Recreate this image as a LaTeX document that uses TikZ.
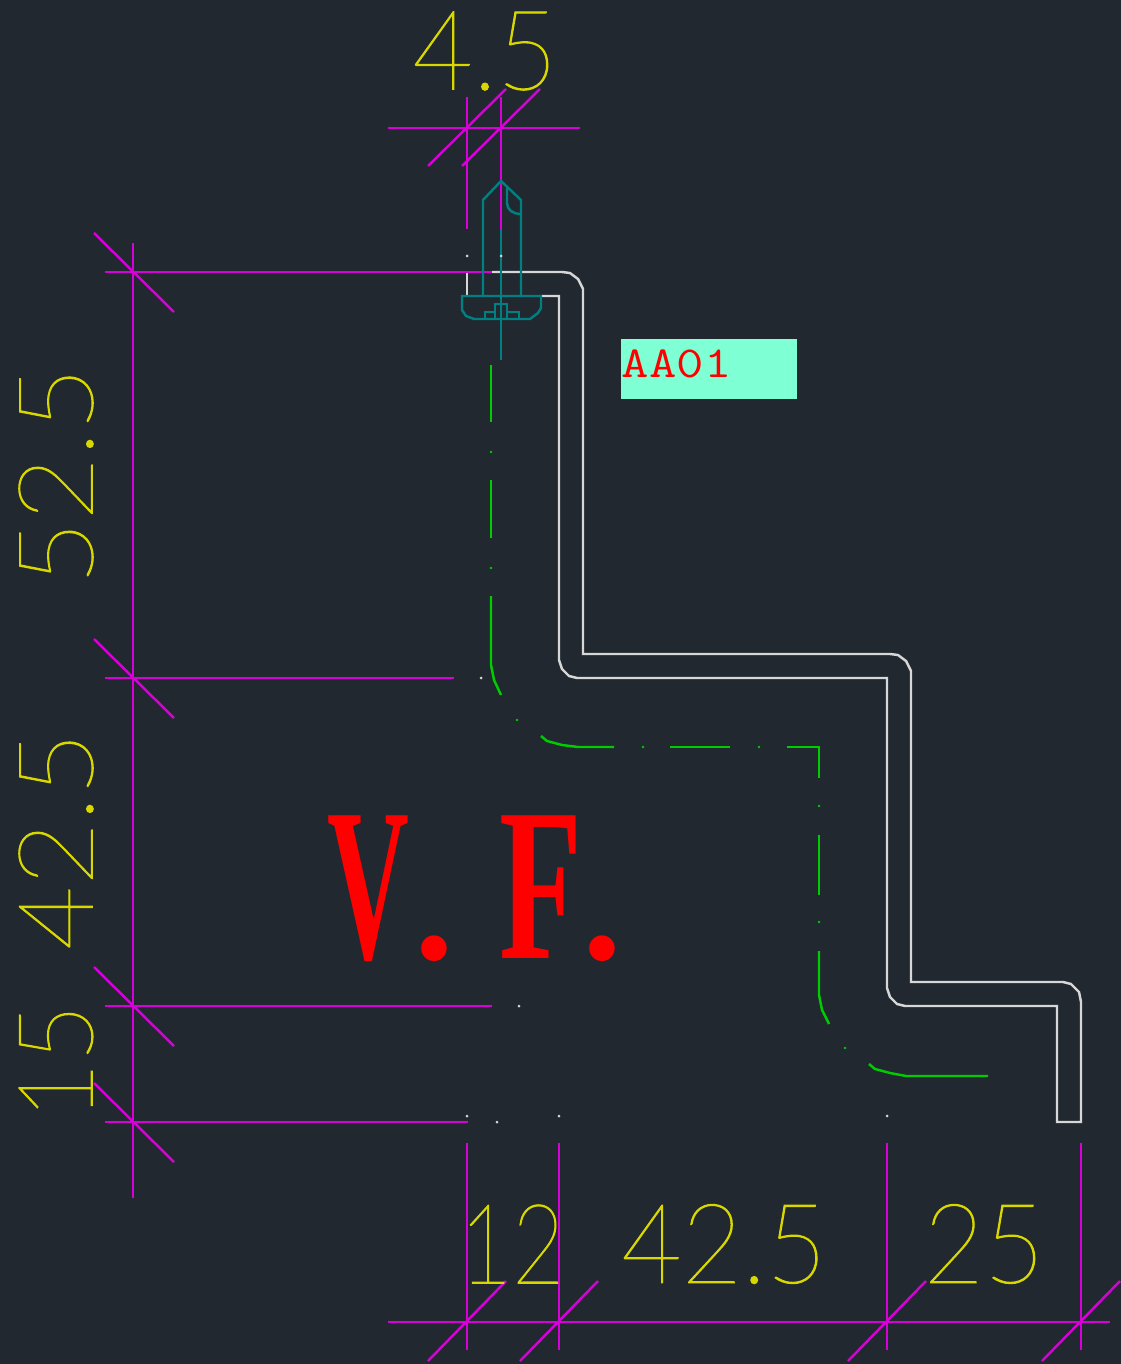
\documentclass[tikz,border=0pt]{standalone}
\usepackage{fontspec}
\usepackage{amsmath, xcolor, graphicx}
\newfontfamily\dimfont[FakeBold=1]{Lato Thin}
\newfontfamily\viewfont{Liberation Serif}
\newcommand{\viewdot}{\scalebox{1.9}[1]{\mdseries .}}
\definecolor{cadbg}{RGB}{33,40,48}
\definecolor{cadmag}{RGB}{216,0,216}
\definecolor{cadteal}{RGB}{0,128,128}
\definecolor{cadgreen}{RGB}{0,204,0}
\definecolor{cadyel}{RGB}{216,216,0}
\definecolor{cadwhite}{RGB}{215,215,215}
\definecolor{cadaqua}{RGB}{127,255,212}
\tikzset{
  dimline/.style={draw=cadmag,line width=0.7pt},
  profile/.style={draw=cadwhite,line width=0.7pt},
  center/.style={draw=cadgreen,line width=0.7pt},
  screwline/.style={draw=cadteal,line width=0.7pt},
  dimtext/.style={inner sep=0pt,text=cadyel,xscale=0.94,font=\dimfont\fontsize{31.5}{31.5}\selectfont},
}
\begin{document}
\begin{tikzpicture}[x=0.01cm,y=-0.01cm]
\useasboundingbox (0,0) rectangle (1120,1364);
\fill[cadbg] (-5,-5) rectangle (1125,1369);
\draw[profile] (492,272) -- (562,272) -- (570,273) -- (578,279) -- (583,289) -- (583,654) -- (890,654) -- (898,655) -- (906,661) -- (911,671) -- (911,982) -- (1063,982) -- (1071,984) -- (1079,992) -- (1081,1002) -- (1081,1122) -- (1057,1122) -- (1057,1006) -- (905,1006) -- (897,1004) -- (890,997) -- (887,988) -- (887,678) -- (577,678) -- (569,676) -- (562,669) -- (559,660) -- (559,296) -- (541,296);
\draw[profile] (467,272) -- (467,296);
\draw[dimline] (388,128) -- (580,128);
\foreach \x in {467,501}
{
\draw[dimline] (\x,97) -- (\x,229);
\draw[dimline] (\x-39,166) -- (\x+39,89);
}
\draw[dimline] (133,243) -- (133,1198);
\foreach \y/\e in {272/492,678/454,1006/492,1122/468}
{
\draw[dimline] (105,\y) -- (\e,\y);
\draw[dimline] (94,\y-39) -- (174,\y+40);
}
\draw[dimline] (388,1322) -- (1110,1322);
\foreach \x in {467,559,887,1081}
{
\draw[dimline] (\x,1143) -- (\x,1350);
\draw[dimline] (\x-39,1361) -- (\x+39,1281);
}
\draw[center] (491,365) -- (491,422);
\draw[center] (491,480) -- (491,538);
\draw[center] (491,596) -- (491,665) -- (494,680) -- (501,695);
\draw[center] (541,736) -- (547,741) -- (562,745) -- (578,747) -- (614,747);
\draw[center] (670,747) -- (730,747);
\draw[center] (787,747) -- (819,747) -- (819,778);
\draw[center] (819,835) -- (819,895);
\draw[center] (819,951) -- (819,995) -- (822,1010) -- (829,1024);
\draw[center] (869,1064) -- (875,1069) -- (890,1073) -- (906,1076) -- (988,1076);
\foreach \x/\y in {491/452,491/568,517/720,643/747,759/747,819/806,819/922,845/1048}
\fill[cadgreen] (\x,\y) circle (1.3);
\draw[screwline] (483,296) -- (483,200) -- (501,181) -- (521,200) -- (521,296);
\draw[screwline] (507,187) -- (507,203) .. controls (507,210) and (513,214) .. (521,214);
\draw[screwline] (501,229) -- (501,360);
\draw[screwline] (462,296) -- (541,296) -- (541,308) -- (538,313) -- (530,319) -- (474,319) -- (466,316) -- (462,310) -- cycle;
\draw[screwline] (485,319) -- (485,312) -- (495,312) -- (495,304) -- (507,304) -- (507,312) -- (519,312) -- (519,319);
\draw[screwline] (495,312) -- (495,319);
\draw[screwline] (507,312) -- (507,319);
\foreach \x/\y in {467/256,501/256,481/678,519/1006,467/1116,497/1122,559/1116,887/1116}
\fill[cadwhite] (\x,\y) circle (1.5);
\fill[cadaqua] (621,339) rectangle (797,399);
\node[anchor=base west,inner sep=0pt,text=red,xscale=1.2,font=\ttfamily\fontsize{12.6}{12.6}\selectfont] (partmark) at (621,378) {AA01};
\node[anchor=base west,inner sep=0pt,text=red,xscale=0.52,font=\viewfont\bfseries\fontsize{62}{62}\selectfont] (viewname) at (327,958) {V\hspace{-1pt}\viewdot\hspace{21pt}\scalebox{1.2}[1]{F}\hspace{-4pt}\viewdot};
\node[dimtext] (dimtop) at (485,51) {4.5};
\node[dimtext,rotate=90] (dimleftA) at (56,476) {52.5};
\node[dimtext,rotate=90] (dimleftB) at (56,841) {42.5};
\node[dimtext,rotate=90,xscale=0.9] (dimleftC) at (56,1062) {15};
\node[dimtext,xscale=0.87] (dimbotA) at (512,1244) {12};
\node[dimtext] (dimbotB) at (724,1244) {42.5};
\node[dimtext] (dimbotC) at (984,1244) {25};
\end{tikzpicture}
\end{document}
